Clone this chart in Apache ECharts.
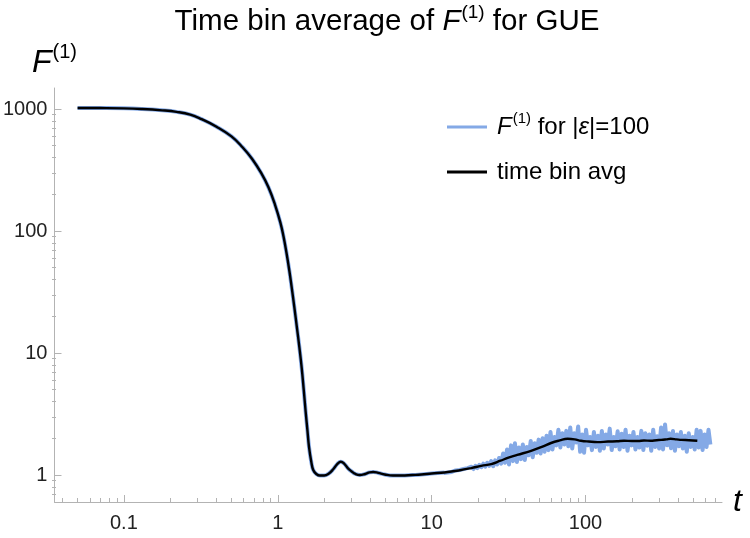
<!DOCTYPE html>
<html>
<head>
<meta charset="utf-8">
<script src="https://cdn.jsdelivr.net/npm/echarts@6/dist/echarts.min.js"></script>
<style>
html,body{margin:0;padding:0;background:#fff;}
#c{width:750px;height:538px;}
</style>
</head>
<body>
<div id="c"></div>
<script>
// ---- data ----
// time-bin average of F^(1)
var avgT = [0.05,0.07,0.1,0.13,0.177,0.22,0.27,0.32,0.4,0.5,0.59,0.68,0.78,0.87,0.96,1.04,1.09,1.14,1.19,1.23,1.28,1.33,1.38,1.43,1.475,1.518,1.56,1.596,1.65,1.70,1.78,1.88,2.0,2.13,2.3,2.45,2.57,2.7,2.85,3.02,3.2,3.41,3.7,3.95,4.17,4.5,4.96,5.6,6.36,7.5,8.57,10,12.1,15,18.1,21,24.4,28,31.2,36,44.3,52,59.7,68,76.6,85,93.4,105,119.7,140,160,178,200,220,240,265,290,310,335,357,390,420,470,533];
var avgF = [1020,1018,1012,1000,975,947,899,825,716,596,486,391,299,228,164,117,90,66,47,35,24,16.4,11.3,7.6,5.0,3.3,2.3,1.70,1.29,1.10,1.02,0.99,0.99,1.02,1.12,1.24,1.285,1.24,1.14,1.07,1.02,1.0,1.02,1.05,1.06,1.04,1.01,0.99,0.99,1.0,1.01,1.03,1.05,1.09,1.14,1.19,1.23,1.31,1.38,1.46,1.58,1.70,1.83,1.92,1.98,1.96,1.91,1.88,1.86,1.88,1.89,1.91,1.90,1.90,1.92,1.91,1.93,1.94,1.96,1.98,1.96,1.94,1.93,1.91];

// raw (noisy) F^(1) for |eps|=100, for t >= 12 (below that it follows the average)
var rawT = [
  12,12.36,12.73,13.11,13.51,13.91,14.33,14.76,15.2,15.66,
  16.13,16.61,17.11,17.62,18.15,18.7,19.26,19.83,20.43,21.04,
  21.67,22.32,22.99,23.68,24.39,25.13,25.88,26.66,27.46,28.28,
  29.13,30,30.9,31.83,32.79,33.77,34.78,35.83,36.9,38.01,
  39.15,40.32,41.53,42.78,44.06,45.39,46.75,48.15,49.6,51.08,
  52.62,54.19,55.82,57.5,59.22,61,62.83,64.71,66.65,68.65,
  70.71,72.83,75.02,77.27,79.59,81.98,84.44,86.97,89.58,92.26,
  95.03,97.88,100.8,103.8,106.9,110.1,113.4,116.8,120.4,124,
  127.7,131.5,135.5,139.5,143.7,148,152.5,157.1,161.8,166.6,
  171.6,176.8,182.1,187.5,193.2,199,204.9,211.1,217.4,223.9,
  230.6,237.6,244.7,252,259.6,267.4,275.4,283.6,292.1,300.9,
  309.9,319.2,328.8,338.7,348.8,359.3,370.1,381.2,392.6,404.4,
  416.5,429,441.9,455.1,468.8,482.9,497.3,512.3,527.6,543.5,
  559.8,576.6,593.9,611.7,630,648
];
var rawF = [
  1.04,1.07,1.05,1.08,1.06,1.05,1.09,1.07,1.10,1.07,
  1.12,1.09,1.14,1.11,1.17,1.12,1.19,1.14,1.21,1.16,
  1.24,1.17,1.26,1.19,1.30,1.18,1.32,1.22,1.38,1.24,
  1.50,1.26,1.62,1.22,1.75,1.30,1.82,1.28,1.68,1.35,
  1.78,1.33,1.70,1.45,1.90,1.40,1.82,1.52,1.95,1.50,
  2.00,1.55,2.10,1.60,2.25,1.62,2.05,1.75,2.35,1.68,
  2.20,1.78,2.30,1.72,2.45,1.65,2.20,1.85,2.50,1.55,
  2.15,1.52,2.35,1.75,2.05,1.60,2.25,1.70,2.10,1.58,
  2.30,1.65,2.15,1.78,2.40,1.60,2.05,1.72,2.28,1.62,
  2.18,1.70,2.35,1.58,2.10,1.75,2.25,1.62,2.05,1.68,
  2.30,1.60,2.20,1.74,2.15,1.58,2.35,1.70,2.08,1.65,
  2.45,1.62,2.60,1.75,2.20,1.66,2.30,1.58,2.15,1.72,
  2.25,1.65,2.10,1.55,2.20,1.70,2.05,1.62,2.35,1.68,
  2.30,1.60,2.15,1.70,2.35,1.78
];

var xMajor = [0.1,1,10,100];
var xMinor = [0.04,0.05,0.06,0.07,0.08,0.09,0.2,0.3,0.4,0.5,0.6,0.7,0.8,0.9,2,3,4,5,6,7,8,9,20,30,40,50,60,70,80,90,200,300,400,500,600,700];
var yMajor = [1,10,100,1000];
var yMinor = [0.7,0.8,0.9,2,3,4,5,6,7,8,9,20,30,40,50,60,70,80,90,200,300,400,500,600,700,800,900];

var xMin = 0.0354, xMax = 771, yMin = 0.601, yMax = 1486;

var rawName = 'F(1) for |ε|=100';
var avgName = 'time bin avg';

// ---- build series ----
var rawSmooth = [];
for (var i = 0; i < avgT.length; i++) if (avgT[i] <= 12.1) rawSmooth.push([avgT[i], avgF[i]]);
var rawNoisy = [];
for (var j = 0; j < rawT.length; j++) rawNoisy.push([rawT[j], rawF[j]]);
var avgData = avgT.map(function (t, k) { return [t, avgF[k]]; });

var FONT = 'Liberation Sans, Arial, Helvetica, sans-serif';
var AXC = '#b3b3b3';
var LBL = '#222222';
var BLUE = '#84a9e6';

function supRich(base, lh) {
  return {
    i: {fontStyle: 'italic', fontSize: base, fontFamily: FONT, color: '#000', lineHeight: lh},
    e: {fontStyle: 'italic', fontSize: base, fontFamily: FONT, color: '#000', lineHeight: lh},
    n: {fontSize: base, fontFamily: FONT, color: '#000', lineHeight: lh},
    s: {fontSize: Math.round(base * 0.63), verticalAlign: 'top', fontFamily: FONT, color: '#000', padding: [0, 0, 0, 1]}
  };
}

var chart = echarts.init(document.getElementById('c'), null, {renderer: 'canvas'});
chart.setOption({
  animation: false,
  backgroundColor: '#fff',
  title: {
    text: '{n|Time bin average of }{i|F}{s|(1)}{n| for GUE}',
    left: 387,
    top: 3,
    padding: 0,
    textAlign: 'center',
    textStyle: {fontFamily: FONT, fontSize: 29.5, fontWeight: 'normal', color: '#000', lineHeight: 38, rich: supRich(29.5, 38)}
  },
  legend: {
    orient: 'vertical',
    left: 447,
    top: 111,
    padding: 0,
    itemWidth: 40,
    itemHeight: 3,
    itemGap: 13,
    icon: 'rect',
    data: [{name: rawName, itemStyle: {color: BLUE}}, {name: avgName, itemStyle: {color: '#000'}}],
    formatter: function (n) { return n === rawName ? '{i|F}{s|(1)}{n| for |}{e|ε}{n||=100}' : '{n|' + n + '}'; },
    textStyle: {
      fontFamily: FONT, fontSize: 24, color: '#000', lineHeight: 32, padding: [0, 0, 0, 5],
      rich: supRich(24, 32)
    }
  },
  grid: {left: 52, top: 88, right: 28, bottom: 36, containLabel: false},
  xAxis: [
    {
      type: 'log', logBase: 10, min: xMin, max: xMax, gridIndex: 0, position: 'bottom',
      name: 't', nameLocation: 'end', nameGap: 11,
      nameTextStyle: {fontFamily: FONT, fontStyle: 'italic', fontSize: 32, color: '#000', verticalAlign: 'middle', padding: [0, 0, 4, 0]},
      axisLine: {show: true, onZero: false, lineStyle: {color: AXC, width: 1}},
      axisTick: {show: true, inside: true, length: 7, lineStyle: {color: AXC}, customValues: xMajor},
      axisLabel: {show: true, margin: 11, fontFamily: FONT, fontSize: 20, color: LBL, customValues: xMajor,
        formatter: function (v) { return String(+(+v).toPrecision(6)); }},
      splitLine: {show: false}, minorTick: {show: false}
    },
    {
      type: 'log', logBase: 10, min: xMin, max: xMax, gridIndex: 0, position: 'top', offset: -414,
      axisLine: {show: false, onZero: false},
      axisTick: {show: true, inside: false, length: 4, lineStyle: {color: AXC}, customValues: xMinor},
      axisLabel: {show: false}, splitLine: {show: false}
    }
  ],
  yAxis: [
    {
      type: 'log', logBase: 10, min: yMin, max: yMax, gridIndex: 0, position: 'left',
      name: '{i|F}{s|(1)}', nameLocation: 'end', nameGap: 4,
      nameTextStyle: {fontFamily: FONT, fontSize: 32, color: '#000', align: 'center', lineHeight: 42, rich: supRich(32, 42)},
      axisLine: {show: true, onZero: false, lineStyle: {color: AXC, width: 1}},
      axisTick: {show: true, inside: true, length: 7, lineStyle: {color: AXC}, customValues: yMajor},
      axisLabel: {show: true, margin: 7, fontFamily: FONT, fontSize: 20, color: LBL, customValues: yMajor,
        formatter: function (v) { return String(+(+v).toPrecision(6)); }},
      splitLine: {show: false}
    },
    {
      type: 'log', logBase: 10, min: yMin, max: yMax, gridIndex: 0, position: 'right', offset: -670,
      axisLine: {show: false, onZero: false},
      axisTick: {show: true, inside: false, length: 4, lineStyle: {color: AXC}, customValues: yMinor},
      axisLabel: {show: false}, splitLine: {show: false}
    }
  ],
  series: [
    {
      name: rawName, type: 'line', xAxisIndex: 0, yAxisIndex: 0, data: rawSmooth,
      showSymbol: false, symbol: 'none', smooth: 0.45,
      lineStyle: {color: BLUE, width: 4}, itemStyle: {color: BLUE}, z: 2
    },
    {
      name: rawName, type: 'line', xAxisIndex: 0, yAxisIndex: 0, data: rawNoisy,
      showSymbol: false, symbol: 'none', smooth: false,
      lineStyle: {color: BLUE, width: 4, join: 'round'}, itemStyle: {color: BLUE}, z: 2
    },
    {
      name: avgName, type: 'line', xAxisIndex: 0, yAxisIndex: 0, data: avgData,
      showSymbol: false, symbol: 'none', smooth: 0.45,
      lineStyle: {color: '#000', width: 2.4}, itemStyle: {color: '#000'}, z: 3
    }
  ]
});
</script>
</body>
</html>
